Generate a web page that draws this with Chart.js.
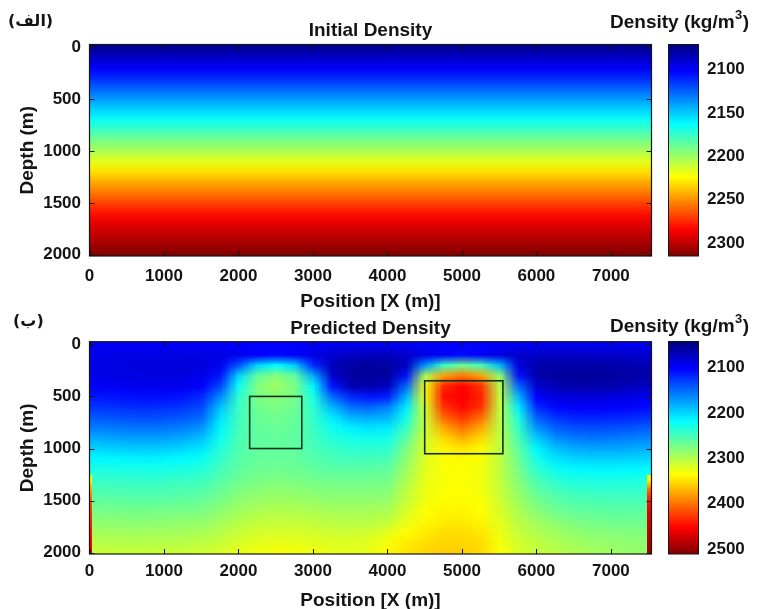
<!DOCTYPE html>
<html>
<head>
<meta charset="utf-8">
<script src="https://cdn.jsdelivr.net/npm/chart.js@4"></script>
<style>
  html, body { margin: 0; padding: 0; background: #fff; overflow: hidden; }
  #wrap { position: relative; width: 758px; height: 609px; }
  canvas { position: absolute; left: 0; }
  #panelA { top: 0; }
  #panelB { top: 296px; }
</style>
</head>
<body>
<div id="wrap">
  <canvas id="panelA" width="758" height="316"></canvas>
  <canvas id="panelB" width="758" height="320"></canvas>
</div>
<script>
// model grid (m)
const positions = [0, 250, 500, 750, 1000, 1250, 1500, 1750, 2000, 2250, 2500, 2750, 3000, 3250, 3500,
  3750, 4000, 4250, 4500, 4750, 5000, 5250, 5500, 5750, 6000, 6250, 6500, 6750, 7000, 7250, 7500];
const depths = [0, 100, 200, 300, 400, 500, 600, 700, 800, 900, 1000, 1100, 1200, 1300, 1400, 1500,
  1600, 1700, 1800, 1900, 2000];
const positionTicks = [0, 1000, 2000, 3000, 4000, 5000, 6000, 7000];
const depthTicks = [0, 500, 1000, 1500, 2000];

// initial model: density against depth (kg/m3)
const initialDensity = [2076, 2088, 2100, 2112, 2126, 2139, 2152, 2165, 2178, 2192, 2204, 2217, 2231,
  2244, 2256, 2269, 2281, 2291, 2299, 2307, 2315];
const initialRange = [2071, 2315];
const initialTicks = [2100, 2150, 2200, 2250, 2300];

// inverted model, one row per depth, one value per position (kg/m3)
const predictedDensity = [
  [2098,2098,2098,2098,2098,2098,2099,2100,2100,2101,2102,2101,2099,2096,2094,2094,2095,2097,2100,2102,2103,2102,2100,2097,2094,2094,2094,2095,2095,2096,2097],
  [2092,2091,2090,2090,2089,2088,2088,2090,2094,2100,2104,2100,2090,2080,2074,2072,2072,2078,2090,2100,2106,2100,2088,2078,2076,2076,2076,2076,2077,2078,2080],
  [2090,2088,2087,2086,2086,2085,2085,2095,2140,2200,2218,2195,2120,2070,2060,2058,2060,2072,2170,2245,2270,2250,2185,2085,2065,2062,2062,2062,2063,2064,2066],
  [2092,2090,2089,2088,2088,2088,2092,2110,2200,2265,2282,2262,2180,2080,2058,2056,2058,2110,2295,2380,2398,2378,2285,2110,2064,2058,2056,2056,2057,2060,2064],
  [2098,2096,2095,2094,2094,2095,2102,2135,2225,2278,2290,2275,2215,2110,2068,2064,2075,2150,2330,2435,2452,2430,2300,2150,2080,2068,2064,2064,2066,2070,2074],
  [2112,2110,2108,2107,2107,2110,2120,2165,2240,2275,2282,2272,2230,2150,2120,2110,2115,2185,2330,2445,2455,2436,2308,2185,2100,2088,2085,2085,2087,2090,2094],
  [2126,2124,2122,2121,2122,2126,2135,2190,2245,2270,2275,2268,2238,2185,2152,2148,2160,2210,2318,2430,2450,2430,2308,2210,2120,2104,2100,2098,2099,2102,2106],
  [2142,2140,2138,2137,2138,2142,2150,2205,2248,2266,2270,2265,2242,2210,2185,2180,2185,2228,2314,2405,2428,2402,2306,2232,2145,2125,2118,2116,2118,2120,2124],
  [2160,2158,2156,2155,2156,2160,2170,2215,2250,2264,2267,2263,2245,2225,2212,2206,2210,2245,2312,2375,2400,2375,2305,2242,2170,2145,2138,2136,2138,2140,2144],
  [2180,2178,2176,2175,2176,2180,2190,2225,2252,2263,2265,2262,2248,2235,2228,2225,2228,2262,2315,2352,2372,2352,2306,2252,2195,2168,2158,2156,2158,2160,2164],
  [2200,2198,2196,2195,2196,2200,2208,2235,2255,2263,2264,2262,2252,2245,2240,2238,2240,2275,2318,2340,2346,2338,2306,2262,2215,2190,2180,2178,2178,2180,2183],
  [2217,2216,2215,2214,2215,2218,2224,2242,2258,2265,2266,2265,2258,2252,2250,2250,2252,2285,2320,2335,2336,2333,2306,2268,2228,2208,2200,2198,2198,2200,2202],
  [2232,2231,2230,2229,2230,2232,2236,2250,2262,2268,2270,2268,2264,2260,2260,2260,2262,2292,2322,2333,2334,2330,2306,2274,2240,2224,2217,2215,2215,2216,2218],
  [2244,2243,2242,2241,2242,2244,2246,2258,2268,2274,2276,2275,2272,2270,2270,2270,2272,2298,2325,2333,2334,2330,2308,2280,2252,2238,2232,2230,2230,2231,2232],
  [2254,2253,2252,2251,2252,2254,2256,2266,2276,2282,2284,2283,2280,2278,2278,2278,2280,2305,2328,2334,2335,2331,2310,2286,2262,2250,2244,2242,2242,2242,2243],
  [2264,2263,2262,2261,2262,2264,2266,2275,2284,2290,2292,2291,2289,2286,2286,2286,2288,2310,2330,2336,2337,2333,2314,2292,2272,2261,2255,2253,2252,2252,2253],
  [2274,2273,2272,2272,2273,2274,2276,2284,2293,2298,2300,2300,2298,2295,2295,2295,2298,2318,2334,2340,2340,2336,2318,2298,2282,2271,2265,2262,2261,2261,2262],
  [2284,2283,2282,2282,2283,2284,2286,2293,2302,2307,2308,2308,2306,2303,2303,2303,2308,2326,2338,2344,2344,2340,2322,2304,2292,2282,2275,2272,2270,2270,2271],
  [2294,2293,2292,2292,2293,2294,2296,2302,2310,2315,2317,2317,2315,2312,2312,2314,2322,2336,2344,2350,2350,2346,2327,2310,2300,2292,2285,2281,2279,2278,2278],
  [2303,2302,2301,2301,2302,2303,2305,2310,2318,2323,2325,2325,2323,2320,2320,2322,2332,2344,2350,2355,2355,2350,2331,2315,2306,2299,2293,2289,2287,2285,2284],
  [2312,2311,2310,2310,2311,2312,2314,2318,2325,2330,2332,2332,2330,2325,2324,2326,2338,2348,2354,2358,2358,2352,2334,2318,2310,2304,2298,2294,2290,2288,2286]
];
// thin high-density columns along both side boundaries
const edgeDepths = [1300, 1400, 1500, 1600, 1700, 1800, 1900, 2000];
const leftEdgeDensity = [2330, 2380, 2410, 2425, 2435, 2445, 2455, 2460];
const rightEdgeDensity = [2340, 2410, 2445, 2465, 2475, 2485, 2492, 2500];
const predictedRange = [2043, 2511];
const predictedTicks = [2100, 2200, 2300, 2400, 2500];

// outlines of the two target bodies
const bodyPositions = [[2150, 2850], [4500, 5550]];
const bodyDepths = [[500, 1000], [350, 1050]];

const FAMILY = '"Liberation Sans", Arial, Helvetica, sans-serif';
const INK = '#141414';

// MATLAB-style jet colormap
function jet(t) {
  t = Math.min(1, Math.max(0, t));
  const f = v => Math.round(255 * Math.min(1, Math.max(0, 1.5 - Math.abs(v))));
  return [f(4 * t - 3), f(4 * t - 2), f(4 * t - 1)];
}

function fieldImage(values, lo, hi) {
  const h = values.length, w = values[0].length;
  const c = document.createElement('canvas');
  c.width = w; c.height = h;
  const g = c.getContext('2d');
  const im = g.createImageData(w, h);
  values.forEach((row, r) => row.forEach((v, k) => {
    const [R, G, B] = jet((v - lo) / (hi - lo));
    const i = (r * w + k) * 4;
    im.data[i] = R; im.data[i + 1] = G; im.data[i + 2] = B; im.data[i + 3] = 255;
  }));
  g.putImageData(im, 0, 0);
  return c;
}

const heatmap = {
  id: 'heatmap',
  beforeDatasetsDraw(chart, args, opts) {
    const { ctx, chartArea: a, scales: { x, y } } = chart;
    const [lo, hi] = opts.range;
    const hx = (opts.cols[1] - opts.cols[0]) / 2;
    const hy = (opts.rows[1] - opts.rows[0]) / 2;
    ctx.save();
    ctx.beginPath();
    ctx.rect(a.left, a.top, a.right - a.left, a.bottom - a.top);
    ctx.clip();
    ctx.imageSmoothingEnabled = true;
    const x0 = x.getPixelForValue(opts.cols[0] - hx), x1 = x.getPixelForValue(opts.cols[opts.cols.length - 1] + hx);
    const y0 = y.getPixelForValue(opts.rows[0] - hy), y1 = y.getPixelForValue(opts.rows[opts.rows.length - 1] + hy);
    ctx.drawImage(fieldImage(opts.values, lo, hi), x0, y0, x1 - x0, y1 - y0);
    (opts.edges || []).forEach(e => {
      const ey = (e.rows[1] - e.rows[0]) / 2;
      const ex0 = x.getPixelForValue(e.from), ex1 = x.getPixelForValue(e.to);
      const ey0 = y.getPixelForValue(e.rows[0] - ey), ey1 = y.getPixelForValue(e.rows[e.rows.length - 1] + ey);
      ctx.drawImage(fieldImage(e.values.map(v => [v]), lo, hi), ex0, ey0, ex1 - ex0, ey1 - ey0);
    });
    ctx.restore();
  }
};

// axes box with inward ticks on all four sides, plus body outlines
const frame = {
  id: 'frame',
  afterDatasetsDraw(chart, args, opts) {
    const { ctx, chartArea: a, scales: { x, y } } = chart;
    ctx.save();
    (opts.boxes || []).forEach(b => {
      const bx0 = x.getPixelForValue(b.x[0]), bx1 = x.getPixelForValue(b.x[1]);
      const by0 = y.getPixelForValue(b.d[0]), by1 = y.getPixelForValue(b.d[1]);
      ctx.strokeStyle = '#15301f';
      ctx.lineWidth = 1.6;
      ctx.strokeRect(bx0, by0, bx1 - bx0, by1 - by0);
    });
    ctx.strokeStyle = INK;
    ctx.lineWidth = 1;
    ctx.beginPath();
    x.ticks.forEach(t => {
      const px = Math.round(x.getPixelForValue(t.value)) + 0.5;
      ctx.moveTo(px, a.bottom); ctx.lineTo(px, a.bottom - 5);
      ctx.moveTo(px, a.top); ctx.lineTo(px, a.top + 5);
    });
    y.ticks.forEach(t => {
      const py = Math.round(y.getPixelForValue(t.value)) + 0.5;
      ctx.moveTo(a.left, py); ctx.lineTo(a.left + 5, py);
      ctx.moveTo(a.right, py); ctx.lineTo(a.right - 5, py);
    });
    ctx.stroke();
    ctx.lineWidth = 1.2;
    ctx.strokeRect(a.left, a.top, a.right - a.left, a.bottom - a.top);
    ctx.restore();
  }
};

// colour bar painted inside the right-hand 'cb' scale, with unit and panel captions
const colorbar = {
  id: 'colorbar',
  afterDraw(chart, args, opts) {
    const { ctx } = chart;
    const cb = chart.scales.cb;
    const left = cb.left + opts.gap, w = opts.width;
    ctx.save();
    for (let py = Math.floor(cb.top); py < Math.ceil(cb.bottom); py++) {
      const v = cb.getValueForPixel(py + 0.5);
      const [R, G, B] = jet((v - cb.min) / (cb.max - cb.min));
      ctx.fillStyle = `rgb(${R},${G},${B})`;
      ctx.fillRect(left, py, w, 1);
    }
    ctx.strokeStyle = INK;
    ctx.lineWidth = 1;
    ctx.strokeRect(left + 0.5, cb.top, w - 1, cb.bottom - cb.top);

    ctx.fillStyle = INK;
    ctx.textBaseline = 'alphabetic';
    ctx.textAlign = 'left';
    ctx.font = `bold 19px ${FAMILY}`;
    const head = 'Density (kg/m';
    ctx.fillText(head, opts.unitX, opts.unitY);
    let cx = opts.unitX + ctx.measureText(head).width + 0.5;
    ctx.font = `bold 13px ${FAMILY}`;
    ctx.fillText('3', cx, opts.unitY - 9);
    cx += ctx.measureText('3').width + 0.5;
    ctx.font = `bold 19px ${FAMILY}`;
    ctx.fillText(')', cx, opts.unitY);

    ctx.font = 'bold 16px "DejaVu Sans", sans-serif';
    ctx.fillText(opts.letter, opts.letterX, opts.letterY);
    ctx.restore();
  }
};

const plain = v => String(v);

function panel(id, p) {
  const tickFont = { family: FAMILY, size: 17, weight: 'bold' };
  const labelFont = { family: FAMILY, size: 19, weight: 'bold' };
  return new Chart(document.getElementById(id), {
    type: 'scatter',
    data: { datasets: [] },
    options: {
      responsive: false,
      animation: false,
      devicePixelRatio: 1,
      events: [],
      layout: { padding: 0 },
      plugins: {
        legend: { display: false },
        tooltip: { enabled: false },
        title: {
          display: true, text: p.title, fullSize: false, color: INK, font: labelFont,
          padding: { top: p.titleTop, bottom: p.titleBottom }
        },
        heatmap: { cols: p.cols, rows: depths, values: p.values, range: p.range, edges: p.edges },
        frame: { boxes: p.boxes },
        colorbar: {
          gap: 16.5, width: 31, unitX: 610, unitY: p.unitY,
          letter: p.letter, letterX: p.letterX, letterY: p.letterY
        }
      },
      scales: {
        x: {
          type: 'linear', position: 'bottom', min: 0, max: 7545,
          afterBuildTicks: s => { s.ticks = positionTicks.map(v => ({ value: v })); },
          afterFit: s => { s.height = p.xHeight; },
          grid: { display: false, drawTicks: false },
          border: { display: false },
          ticks: { color: INK, font: tickFont, padding: p.xTickPad, maxRotation: 0, autoSkip: false, callback: plain },
          title: { display: true, text: 'Position [X (m)]', color: INK, font: labelFont, padding: { top: 0, bottom: p.xTitlePad } }
        },
        y: {
          type: 'linear', position: 'left', reverse: true, min: -25, max: 2012,
          afterBuildTicks: s => { s.ticks = depthTicks.map(v => ({ value: v })); },
          afterFit: s => { s.width = 89.5; },
          grid: { display: false, drawTicks: false },
          border: { display: false },
          ticks: { color: INK, font: tickFont, padding: 8.5, autoSkip: false, callback: plain },
          title: { display: true, text: 'Depth (m)', color: INK, font: labelFont, padding: { top: 16.3, bottom: 0 } }
        },
        cb: {
          type: 'linear', position: 'right', reverse: true, min: p.range[0], max: p.range[1],
          afterBuildTicks: s => { s.ticks = p.cbTicks.map(v => ({ value: v })); },
          afterFit: s => { s.width = 106.5; },
          // invisible tick marks push the labels past the colour bar
          grid: { display: true, drawOnChartArea: false, drawTicks: true, tickLength: 47.5, color: 'rgba(0,0,0,0)' },
          border: { display: false },
          ticks: { color: INK, font: tickFont, padding: 8, autoSkip: false, callback: plain }
        }
      }
    },
    plugins: [heatmap, frame, colorbar]
  });
}

panel('panelA', {
  title: 'Initial Density', titleTop: 19.8, titleBottom: 1.9,
  cols: [positions[0], positions[positions.length - 1]],
  values: initialDensity.map(v => [v, v]),
  range: initialRange, cbTicks: initialTicks,
  xHeight: 60, xTickPad: 9.8, xTitlePad: 2.9,
  unitY: 28, letter: '(الف)', letterX: 8, letterY: 26
});

panel('panelB', {
  title: 'Predicted Density', titleTop: 20.9, titleBottom: 2.0,
  cols: positions, values: predictedDensity,
  edges: [
    { from: 0, to: 40, rows: edgeDepths, values: leftEdgeDensity },
    { from: 7490, to: 7545, rows: edgeDepths, values: rightEdgeDensity }
  ],
  range: predictedRange, cbTicks: predictedTicks,
  boxes: bodyPositions.map((bx, i) => ({ x: bx, d: bodyDepths[i] })),
  xHeight: 62, xTickPad: 7.3, xTitlePad: 3.8,
  unitY: 36, letter: '(ب)', letterX: 13, letterY: 30
});
</script>
</body>
</html>
